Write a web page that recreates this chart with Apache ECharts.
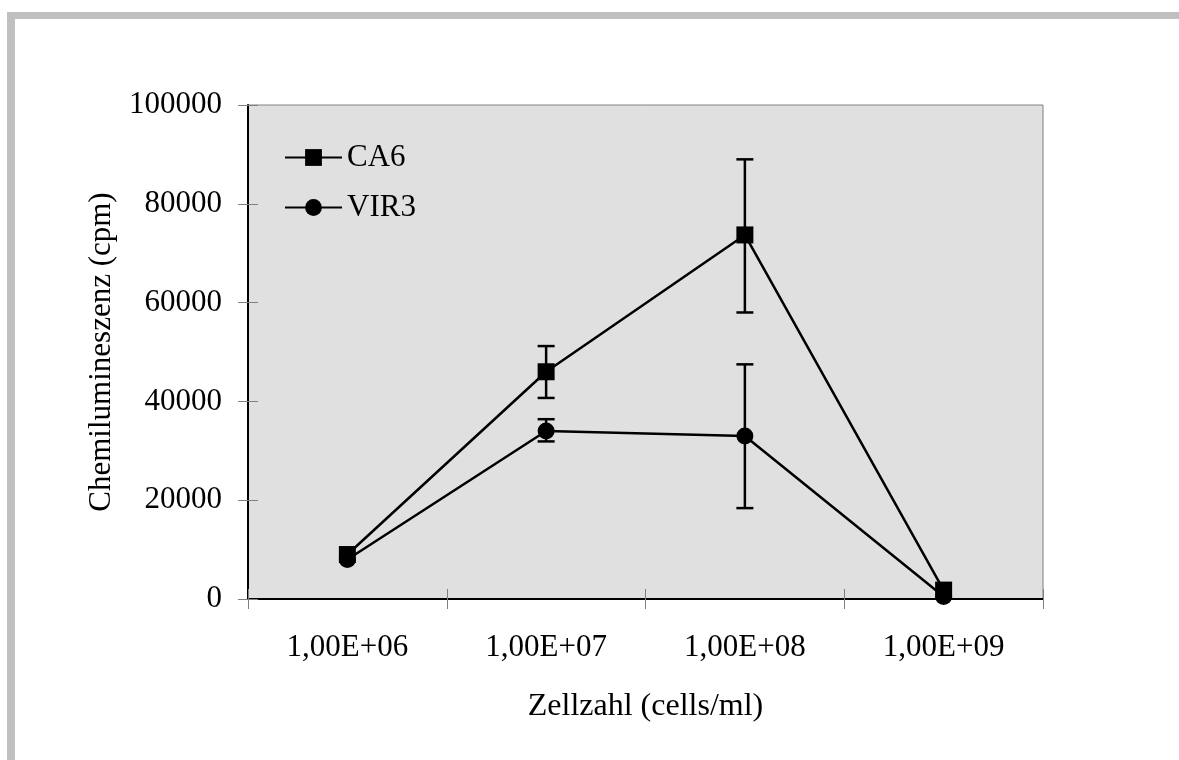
<!DOCTYPE html>
<html>
<head>
<meta charset="utf-8">
<script src="https://cdn.jsdelivr.net/npm/echarts@6/dist/echarts.min.js"></script>
<style>
  html, body { margin: 0; padding: 0; background: #ffffff; }
  #chart { width: 1179px; height: 760px; }
</style>
</head>
<body>
<div id="chart"></div>
<script>
// Cell counts on the x axis (categories)
const categories = ['1,00E+06', '1,00E+07', '1,00E+08', '1,00E+09'];

// Mean chemiluminescence (cpm) per strain
const ca6Values = [9000, 46000, 73700, 1800];
const vir3Values = [8000, 34000, 33000, 500];

// Error bar ranges (low / high), null where no bar is drawn
const ca6Low = [null, 40700, 58000, null];
const ca6High = [null, 51200, 89000, null];
const vir3Low = [null, 31900, 18400, null];
const vir3High = [null, 36400, 47500, null];

// Y-axis ticks
const yMin = 0;
const yMax = 100000;
const yStep = 20000;

const FONT = 'Liberation Serif';

function errorData(low, high) {
  const out = [];
  for (let i = 0; i < low.length; i++) {
    if (low[i] != null && high[i] != null) out.push([i, low[i], high[i]]);
  }
  return out;
}

function renderErrorBar(params, api) {
  const x = api.value(0);
  const lo = api.coord([x, api.value(1)]);
  const hi = api.coord([x, api.value(2)]);
  const half = 8.5;
  const style = { stroke: '#000000', lineWidth: 2.5 };
  return {
    type: 'group',
    children: [
      { type: 'line', shape: { x1: lo[0], y1: lo[1], x2: hi[0], y2: hi[1] }, style: style },
      { type: 'line', shape: { x1: hi[0] - half, y1: hi[1], x2: hi[0] + half, y2: hi[1] }, style: style },
      { type: 'line', shape: { x1: lo[0] - half, y1: lo[1], x2: lo[0] + half, y2: lo[1] }, style: style }
    ]
  };
}

const chart = echarts.init(document.getElementById('chart'), null, { renderer: 'canvas' });

const tickStyle = { color: '#808080', width: 1 };

chart.setOption({
  backgroundColor: '#ffffff',
  animation: false,
  textStyle: { fontFamily: FONT, color: '#000000' },
  graphic: [
    // grey frame strips along the top and left edges
    { type: 'rect', left: 7, top: 12, shape: { width: 1172, height: 7 }, style: { fill: '#c0c0c0' }, z: -10 },
    { type: 'rect', left: 7, top: 12, shape: { width: 8, height: 748 }, style: { fill: '#c0c0c0' }, z: -10 }
  ],
  grid: {
    left: 248, top: 105, width: 795, height: 494,
    show: true,
    backgroundColor: '#e0e0e0',
    borderColor: '#808080',
    borderWidth: 1
  },
  legend: {
    data: ['CA6', 'VIR3'],
    orient: 'vertical',
    left: 279,
    top: 136,
    itemWidth: 57,
    itemHeight: 21,
    itemGap: 17,
    textStyle: { fontFamily: FONT, fontSize: 31, color: '#000000', lineHeight: 33, padding: [0, 0, 0, 0] }
  },
  xAxis: [
    {
      type: 'category',
      data: categories,
      boundaryGap: true,
      name: 'Zellzahl (cells/ml)',
      nameLocation: 'middle',
      nameGap: 92,
      nameTextStyle: { fontFamily: FONT, fontSize: 32, color: '#000000' },
      axisLine: { show: true, lineStyle: { color: '#000000', width: 2 } },
      axisTick: { show: true, length: 10, lineStyle: tickStyle },
      axisLabel: { fontFamily: FONT, fontSize: 31, color: '#000000', margin: 33 },
      splitLine: { show: false }
    },
    {
      // inner half of the crossing tick marks
      type: 'category',
      data: categories,
      boundaryGap: true,
      position: 'bottom',
      axisLine: { show: false },
      axisTick: { show: true, inside: true, length: 10, lineStyle: tickStyle },
      axisLabel: { show: false },
      splitLine: { show: false }
    }
  ],
  yAxis: [
    {
      type: 'value',
      min: yMin, max: yMax, interval: yStep,
      name: 'Chemilumineszenz (cpm)',
      nameLocation: 'middle',
      nameGap: 131,
      nameTextStyle: { fontFamily: FONT, fontSize: 31, color: '#000000' },
      axisLine: { show: true, lineStyle: { color: '#000000', width: 2 } },
      axisTick: { show: true, length: 10, lineStyle: tickStyle },
      axisLabel: {
        fontFamily: FONT, fontSize: 31, color: '#000000', margin: 26,
        formatter: function (v) { return String(v); }
      },
      splitLine: { show: false }
    },
    {
      type: 'value',
      min: yMin, max: yMax, interval: yStep,
      position: 'left',
      axisLine: { show: false },
      axisTick: { show: true, inside: true, length: 10, lineStyle: tickStyle },
      axisLabel: { show: false },
      splitLine: { show: false }
    }
  ],
  series: [
    {
      name: 'CA6-err',
      type: 'custom',
      renderItem: renderErrorBar,
      data: errorData(ca6Low, ca6High),
      z: 2,
      silent: true
    },
    {
      name: 'VIR3-err',
      type: 'custom',
      renderItem: renderErrorBar,
      data: errorData(vir3Low, vir3High),
      z: 2,
      silent: true
    },
    {
      name: 'VIR3',
      type: 'line',
      data: vir3Values,
      symbol: 'circle',
      symbolSize: 17,
      showAllSymbol: true,
      lineStyle: { color: '#000000', width: 2.5 },
      itemStyle: { color: '#000000', borderWidth: 0 },
      z: 3
    },
    {
      name: 'CA6',
      type: 'line',
      data: ca6Values,
      symbol: 'rect',
      symbolSize: 17,
      showAllSymbol: true,
      lineStyle: { color: '#000000', width: 2.5 },
      itemStyle: { color: '#000000', borderWidth: 0 },
      z: 4
    }
  ]
});
</script>
</body>
</html>
